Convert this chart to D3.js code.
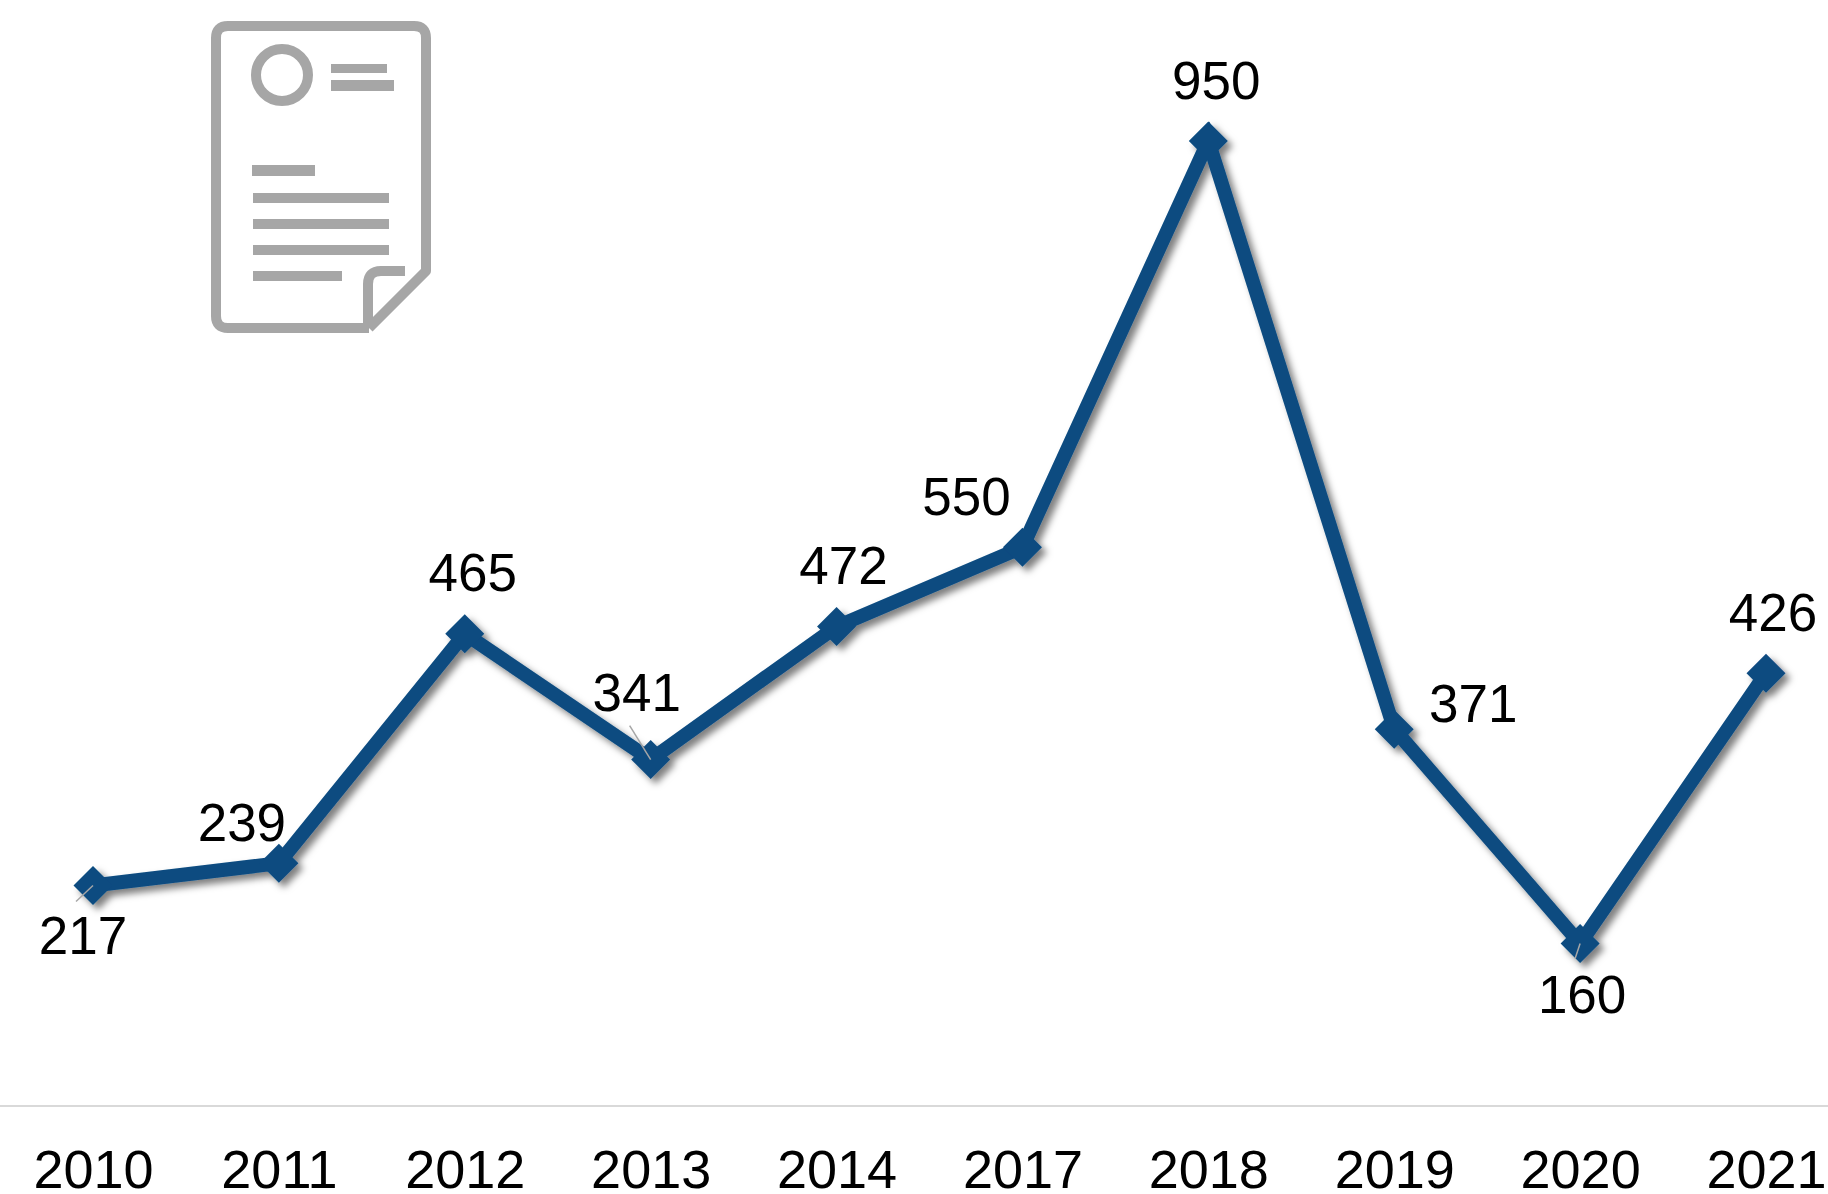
<!DOCTYPE html>
<html>
<head>
<meta charset="utf-8">
<script src="https://cdn.jsdelivr.net/npm/d3@7"></script>
<style>
html, body { margin: 0; padding: 0; background: #fff; }
svg { display: block; }
text { font-family: "Liberation Sans", Arial, sans-serif; fill: #000; }
</style>
</head>
<body>
<script>
var w = 1828;
var h = 1194;

var years = ['2010', '2011', '2012', '2013', '2014', '2017', '2018', '2019', '2020', '2021'];
var counts = [217, 239, 465, 341, 472, 550, 950, 371, 160, 426];

// label position relative to the point
var labelDx = [-10, -37, 8, -14, 7, -56, 8, 79, 2, 7];
var labelDy = [68, -22, -43, -49, -43, -32, -42, -7, 70, -42];

// thin leader lines, only some labels have one
var leaders = [
    {i: 0, dx: -17, dy: 16},
    {i: 3, dx: -21, dy: -34},
    {i: 8, dx: -5, dy: 15}
];

var color = '#0a4b80';
var grey = '#a6a6a6';

var x = d3.scalePoint().domain(years).range([93, 1766]);
var y = d3.scaleLinear().domain([0, 950]).range([1106, 141]);

var svg = d3.select('body').append('svg')
    .attr('width', w)
    .attr('height', h);

// shadow for line and markers
var shadow = svg.append('defs').append('filter')
    .attr('id', 'shadow')
    .attr('x', '-10%').attr('y', '-10%')
    .attr('width', '120%').attr('height', '120%');
shadow.append('feDropShadow')
    .attr('dx', 5).attr('dy', 5)
    .attr('stdDeviation', 3.5)
    .attr('flood-color', '#000')
    .attr('flood-opacity', 0.5);

// axis
var axis = d3.axisBottom(x).tickSize(0).tickPadding(44);
var axisG = svg.append('g')
    .attr('transform', 'translate(0,' + y(0) + ')')
    .call(axis);
axisG.select('.domain')
    .attr('d', 'M0,0H' + w)
    .attr('stroke', '#d9d9d9')
    .attr('stroke-width', 2);
axisG.selectAll('text')
    .attr('font-size', '54px')
    .attr('font-family', '"Liberation Sans", Arial, sans-serif')
    .attr('fill', '#000');

// line + markers
var line = d3.line()
    .x(function(d, i) { return x(years[i]); })
    .y(function(d) { return y(d); });

var series = svg.append('g').attr('filter', 'url(#shadow)');

series.append('path')
    .datum(counts)
    .attr('d', line)
    .attr('fill', 'none')
    .attr('stroke', color)
    .attr('stroke-width', 14)
    .attr('stroke-linejoin', 'miter');

series.selectAll('.marker')
    .data(counts).enter()
    .append('path')
    .attr('class', 'marker')
    .attr('d', d3.symbol().type(d3.symbolSquare).size(760))
    .attr('transform', function(d, i) {
        return 'translate(' + x(years[i]) + ',' + y(d) + ') rotate(45)';
    })
    .attr('fill', color);

// leader lines
svg.selectAll('.leader')
    .data(leaders).enter()
    .append('line')
    .attr('class', 'leader')
    .attr('x1', function(d) { return x(years[d.i]); })
    .attr('y1', function(d) { return y(counts[d.i]); })
    .attr('x2', function(d) { return x(years[d.i]) + d.dx; })
    .attr('y2', function(d) { return y(counts[d.i]) + d.dy; })
    .attr('stroke', grey)
    .attr('stroke-width', 1.5);

// value labels
svg.selectAll('.label')
    .data(counts).enter()
    .append('text')
    .attr('class', 'label')
    .text(function(d) { return d; })
    .attr('x', function(d, i) { return x(years[i]) + labelDx[i]; })
    .attr('y', function(d, i) { return y(d) + labelDy[i]; })
    .attr('text-anchor', 'middle')
    .attr('font-size', '53px');

// document icon
var icon = svg.append('g');

icon.append('path')
    .attr('d', 'M369,328H228Q216,328 216,316V38Q216,26 228,26H414Q426,26 426,38V271L369,328')
    .attr('fill', 'none')
    .attr('stroke', grey)
    .attr('stroke-width', 10)
    .attr('stroke-linejoin', 'round');

icon.append('path')
    .attr('d', 'M368,328V284Q368,271 381,271H405')
    .attr('fill', 'none')
    .attr('stroke', grey)
    .attr('stroke-width', 10);

icon.append('circle')
    .attr('cx', 282)
    .attr('cy', 75)
    .attr('r', 26)
    .attr('fill', 'none')
    .attr('stroke', grey)
    .attr('stroke-width', 10);

var iconBars = [
    [331, 64, 56, 9],
    [331, 80, 63, 11],
    [252, 165, 63, 11],
    [253, 193, 136, 10],
    [253, 219, 136, 10],
    [253, 245, 136, 10],
    [253, 271, 89, 10]
];

icon.selectAll('rect')
    .data(iconBars).enter()
    .append('rect')
    .attr('x', function(d) { return d[0]; })
    .attr('y', function(d) { return d[1]; })
    .attr('width', function(d) { return d[2]; })
    .attr('height', function(d) { return d[3]; })
    .attr('fill', grey);
</script>
</body>
</html>
